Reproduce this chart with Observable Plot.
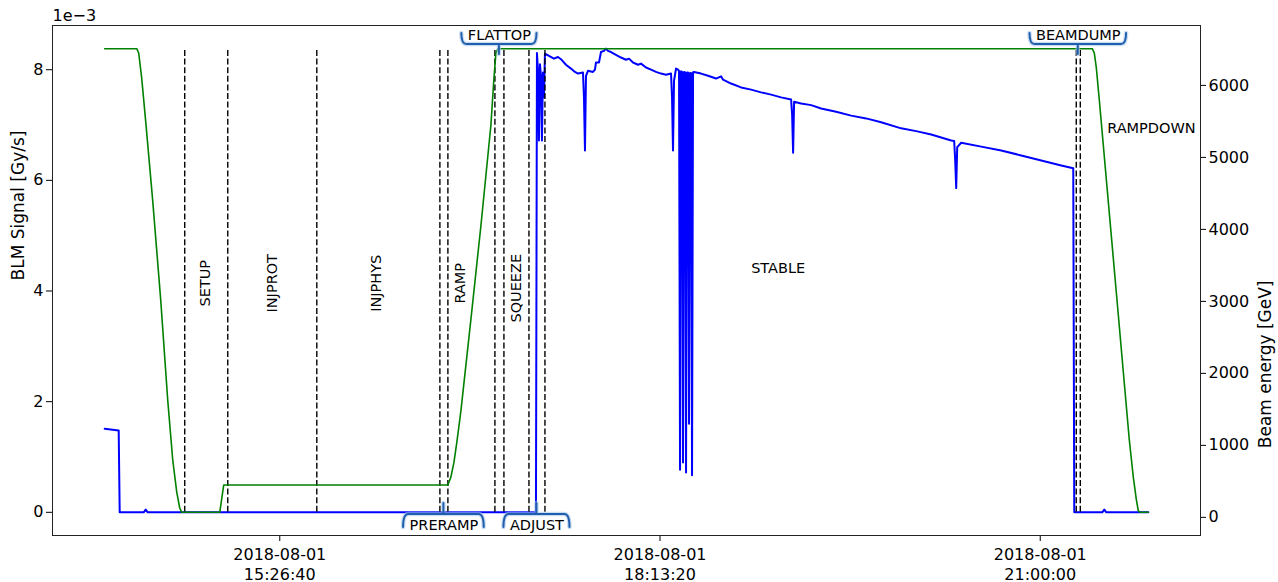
<!DOCTYPE html>
<html>
<head>
<meta charset="utf-8">
<script src="https://cdn.jsdelivr.net/npm/d3@7"></script>
<script src="https://cdn.jsdelivr.net/npm/@observablehq/plot@0.6"></script>
<style>
  body { margin: 0; background: #fff; }
  #chart { width: 1278px; height: 582px; }
  #chart svg { display: block; }
</style>
</head>
<body>
<div id="chart"></div>
<script>
// ---------------- data ----------------
const startTime = "2018-08-01T14:09:55Z";   // first sample of the record

// BLM signal: minutes after start, value in units of 1e-3 Gy/s
const blmMinutes = [0, 6.14, 6.58, 17.10, 17.98, 18.86, 189.04, 189.48, 189.91, 190.35, 190.79, 191.23, 191.67, 192.11, 192.55, 192.98,
  194.74, 196.93, 198.69, 200.00, 202.19, 204.39, 206.14, 207.46, 209.65, 210.09, 210.53, 210.97, 211.84, 214.04, 214.91, 215.35,
  216.67, 217.55, 218.86, 219.74, 220.62, 221.93, 224.12, 226.32, 228.51, 229.83, 231.58, 233.77, 235.09, 237.28, 239.48, 241.67,
  243.86, 246.05, 248.25, 248.69, 249.12, 249.56, 250.44, 251.32, 251.76, 252.20, 252.63, 253.07, 253.51, 253.95, 254.39, 254.83,
  255.27, 255.70, 256.14, 256.58, 257.02, 257.46, 257.90, 258.34, 261.41, 264.48, 267.98, 270.18, 271.05, 274.56, 278.95, 283.34,
  287.72, 292.11, 296.49, 300.88, 301.32, 301.76, 302.19, 305.27, 309.65, 314.04, 320.62, 327.20, 333.77, 340.35, 349.12, 355.70,
  362.28, 371.06, 372.37, 372.81, 373.25, 373.69, 375.44, 384.21, 392.99, 401.76, 410.53, 419.30, 424.56, 425.00, 437.28, 438.16,
  439.04, 457.46];
const blmValues = [1.51, 1.48, 0, 0, 0.05, 0, 0, 8.30, 8.00, 6.72, 8.10, 7.90, 6.72, 7.95, 7.50, 8.29,
  8.25, 8.20, 8.23, 8.19, 8.09, 8.02, 7.96, 7.93, 7.95, 7.50, 6.54, 7.89, 7.98, 7.96, 8.00, 8.13,
  8.13, 8.32, 8.34, 8.38, 8.34, 8.32, 8.27, 8.22, 8.18, 8.20, 8.13, 8.09, 8.11, 8.04, 8.00, 7.96,
  7.93, 7.91, 7.93, 7.50, 6.54, 7.80, 8.02, 8.00, 7.98, 0.77, 7.97, 7.96, 0.90, 7.96, 7.95, 0.72,
  7.95, 7.95, 1.60, 7.94, 7.94, 0.67, 7.95, 7.96, 7.93, 7.89, 7.84, 7.88, 7.82, 7.75, 7.68, 7.64,
  7.59, 7.55, 7.50, 7.46, 7.20, 6.50, 7.42, 7.39, 7.36, 7.30, 7.24, 7.17, 7.12, 7.05, 6.94, 6.89,
  6.83, 6.72, 6.71, 6.36, 5.86, 6.60, 6.68, 6.61, 6.54, 6.45, 6.36, 6.27, 6.22, 0, 0, 0.05,
  0, 0];

// Beam energy: minutes after start, GeV
const energyMinutes = [0, 14.04, 14.91, 16.23, 17.98, 21.05, 24.56, 27.63, 29.82, 31.58, 32.90, 33.77,
  50.44, 52.19, 150.44, 151.76, 153.07, 154.39, 156.14, 160.53, 164.91, 169.30, 170.62, 171.49, 172.37,
  432.90, 433.78, 434.65, 435.97, 439.04, 443.42, 449.13, 450.88, 452.20, 453.07, 453.95, 457.46];
const energyValues = [6510, 6510, 6450, 6100, 5500, 4400, 3020, 1630, 800, 350, 130, 70,
  70, 450, 450, 560, 760, 1050, 1480, 2750, 4050, 5450, 6100, 6450, 6510,
  6510, 6450, 6250, 5800, 4700, 3130, 1074, 560, 250, 90, 70, 70];

// beam-mode boundaries (minutes after start)
const boundaryMinutes = [35.09, 53.95, 92.98, 146.93, 150.44, 171.05, 175.00, 185.97, 192.98, 425.88, 427.64];

// mode labels written vertically inside their interval
const verticalModes = ["SETUP", "INJPROT", "INJPHYS", "RAMP", "SQUEEZE"];
const verticalModeMinutes = [44.3, 73.3, 119.3, 156.1, 180.3];
const verticalModeLevels = [4.14, 4.14, 4.14, 4.14, 4.05];

// mode labels written horizontally
const horizontalModes = ["STABLE", "RAMPDOWN"];
const horizontalModeMinutes = [295.2, 458.8];
const horizontalModeLevels = [4.41, 6.94];

// short modes labelled with a brace
const braceModes = ["PRERAMP", "FLATTOP", "ADJUST", "BEAMDUMP"];
const braceModeMinutes = [148.69, 173.02, 189.48, 426.76];
const braceModeSides = ["bottom", "top", "bottom", "top"];

// tick labels
const xTickTimes = ["2018-08-01T15:26:40Z", "2018-08-01T18:13:20Z", "2018-08-01T21:00:00Z"];
const blmTicks = [0, 2, 4, 6, 8];
const energyTicks = [0, 1000, 2000, 3000, 4000, 5000, 6000];

// ---------------- build ----------------
const parse = d3.utcParse("%Y-%m-%dT%H:%M:%SZ");
const t0 = parse(startTime);
const at = m => new Date(+t0 + m * 60000);

const blm = blmMinutes.map((m, i) => ({ t: at(m), v: blmValues[i] }));
const allMinutes = blmMinutes.concat(energyMinutes);
const [m0, m1] = d3.extent(allMinutes);
const xPad = (m1 - m0) * 0.05;
const xDomain = [at(m0 - xPad), at(m1 + xPad)];

const [b0, b1] = d3.extent(blmValues);
const yDomain = [b0 - (b1 - b0) * 0.05, b1 + (b1 - b0) * 0.05];
const [e0, e1] = d3.extent(energyValues);
const eDomain = [e0 - (e1 - e0) * 0.05, e1 + (e1 - e0) * 0.05];
const eToY = e => yDomain[0] + (e - eDomain[0]) / (eDomain[1] - eDomain[0]) * (yDomain[1] - yDomain[0]);
const yToE = y => eDomain[0] + (y - yDomain[0]) / (yDomain[1] - yDomain[0]) * (eDomain[1] - eDomain[0]);
const energy = energyMinutes.map((m, i) => ({ t: at(m), y: eToY(energyValues[i]) }));

const boundaries = boundaryMinutes.map(at);
const vLabels = verticalModes.map((name, i) => ({ name, t: at(verticalModeMinutes[i]), y: verticalModeLevels[i] }));
const hLabels = horizontalModes.map((name, i) => ({ name, t: at(horizontalModeMinutes[i]), y: horizontalModeLevels[i] }));
const braces = braceModes.map((name, i) => ({ name, t: at(braceModeMinutes[i]), side: braceModeSides[i] }));

const W = 1278, H = 582, mL = 52, mR = 78, mT = 25, mB = 47;
const FONT = "DejaVu Sans";
const labelSize = 14.5;
const fmtX = d3.utcFormat("%Y-%m-%d\n%H:%M:%S");

const chart = Plot.plot({
  width: W, height: H,
  marginLeft: mL, marginRight: mR, marginTop: mT, marginBottom: mB,
  style: { fontFamily: FONT, fontSize: "16px", color: "#000", background: "#fff", overflow: "visible" },
  x: { type: "utc", domain: xDomain },
  y: { domain: yDomain },
  marks: [
    Plot.axisX({ ticks: xTickTimes.map(parse), tickFormat: fmtX, tickSize: 6, tickPadding: 4, label: null, lineHeight: 1.25, fontSize: 16 }),
    Plot.axisY({ ticks: blmTicks, tickFormat: d3.format("d"), tickSize: 6, tickPadding: 3, label: null, fontSize: 16 }),
    Plot.axisY({ anchor: "right", ticks: energyTicks.map(eToY), tickFormat: y => String(Math.round(yToE(y) / 10) * 10), tickSize: 5, tickPadding: 3, label: null, fontSize: 16 }),
    Plot.line(blm, { x: "t", y: "v", stroke: "#0000ff", strokeWidth: 2 }),
    Plot.ruleX(boundaries, { x: d => d, y1: 0, y2: b1, stroke: "#000", strokeWidth: 1.4, strokeDasharray: "6,2.6" }),
    Plot.line(energy, { x: "t", y: "y", stroke: "#008000", strokeWidth: 1.6 }),
    Plot.text(vLabels, { x: "t", y: "y", text: "name", rotate: -90, fontSize: labelSize, fill: "#000" }),
    Plot.text(hLabels, { x: "t", y: "y", text: "name", fontSize: labelSize, fill: "#000" }),
    Plot.text(braces.filter(d => d.side === "top"), { x: "t", frameAnchor: "top", lineAnchor: "middle", dy: 10, text: "name", fontSize: labelSize, fill: "#000" }),
    Plot.text(braces.filter(d => d.side === "bottom"), { x: "t", frameAnchor: "bottom", lineAnchor: "middle", dy: -10.5, text: "name", fontSize: labelSize, fill: "#000" }),
    Plot.text(["BLM Signal [Gy/s]"], { frameAnchor: "left", lineAnchor: "middle", dx: -34, rotate: -90, fontSize: 17, fill: "#000" }),
    Plot.text(["Beam energy [GeV]"], { frameAnchor: "right", lineAnchor: "middle", dx: 65, rotate: -90, fontSize: 17, fill: "#000" }),
    Plot.text(["1e\u22123"], { frameAnchor: "top-left", lineAnchor: "middle", dy: -10, textAnchor: "start", fontSize: 16, fill: "#000" }),
    Plot.frame({ stroke: "#222", strokeWidth: 1 })
  ]
});

document.getElementById("chart").appendChild(chart);

// braces drawn with the plot's own x scale
const xs = chart.scale("x");
const ctx = document.createElement("canvas").getContext("2d");
ctx.font = `${labelSize}px '${FONT}'`;
const g = d3.select(chart).append("g").attr("fill", "none").attr("stroke-linecap", "round");
const frameTop = mT, frameBottom = H - mB;
for (const b of braces) {
  const x = xs.apply(b.t);
  const hw = ctx.measureText(b.name).width / 2 + 6;
  let yLine, yEnd, yStem;
  if (b.side === "top") { yLine = frameTop + 19; yEnd = frameTop + 8; yStem = frameTop + 29; }
  else { yLine = frameBottom - 21; yEnd = frameBottom - 8; yStem = frameBottom - 32; }
  const d = `M${x - hw},${yEnd} Q${x - hw},${yLine} ${x - hw + 5},${yLine} L${x + hw - 5},${yLine} Q${x + hw},${yLine} ${x + hw},${yEnd} M${x},${yLine} L${x},${yStem}`;
  g.append("path").attr("d", d).attr("stroke", "#a9c6ea").attr("stroke-width", 4.5).attr("opacity", 0.6);
  g.append("path").attr("d", d).attr("stroke", "#1f5fae").attr("stroke-width", 2);
}
</script>
</body>
</html>
